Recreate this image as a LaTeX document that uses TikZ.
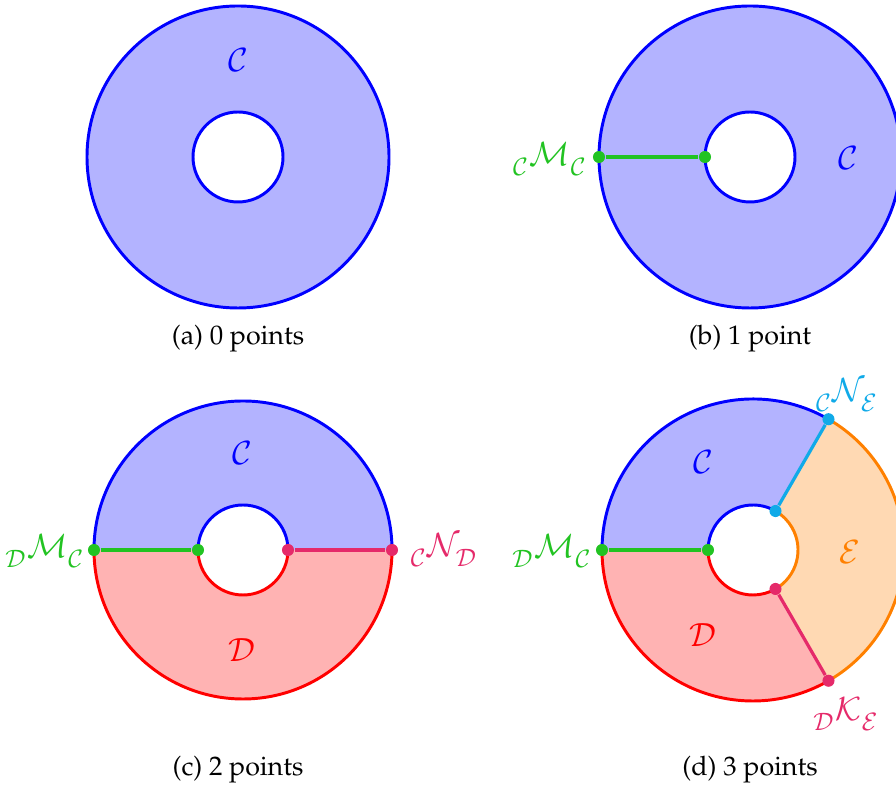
\documentclass[tikz,border=0pt]{standalone}
\usepackage[T1]{fontenc}
\usepackage{mathpazo}
\usetikzlibrary{calc}
\definecolor{mgreen}{HTML}{22C322}
\definecolor{mcyan}{HTML}{10AAE8}
\definecolor{mpink}{HTML}{E52A6A}
\definecolor{morange}{HTML}{FF8000}
\definecolor{fblue}{HTML}{B3B3FF}
\definecolor{fred}{HTML}{FFB3B3}
\definecolor{forange}{HTML}{FFD9B3}
\newcommand{\lsb}[1]{\lower2.2pt\hbox{$\scriptstyle\mathcal{#1}$}}
\newcommand{\lbl}[3]{${}_{\lsb{#1}}\mathcal{#2}_{\lsb{#3}}$}
\begin{document}
\begin{tikzpicture}[x=0.373pt,y=0.373pt,
  edge/.style={line width=1.1pt},
  seg/.style={line width=1.2pt},
  dot/.style={circle,inner sep=0pt,minimum size=4.5pt},
  lab/.style={inner sep=0pt,font=\large},
  captxt/.style={inner sep=0pt,font=\normalsize}]
\useasboundingbox (0,0) rectangle (896,791);
% ---------- (a)
\coordinate (ca) at (238,634);
\fill[fblue,even odd rule] (ca) circle[radius=151] (ca) circle[radius=45];
\draw[edge,blue] (ca) circle[radius=151];
\draw[edge,blue] (ca) circle[radius=45];
\node[lab,blue] (la) at (238,731) {$\mathcal{C}$};
\node[captxt] (capa) at (238,452) {(a) 0 points};
% ---------- (b)
\coordinate (cb) at (750,634);
\fill[fblue,even odd rule] (cb) circle[radius=151] (cb) circle[radius=45];
\draw[edge,blue] (cb) circle[radius=151];
\draw[edge,blue] (cb) circle[radius=45];
\node[dot,fill=mgreen] (b1) at ($(cb)+(180:151)$) {};
\node[dot,fill=mgreen] (b2) at ($(cb)+(180:45)$) {};
\draw[seg,mgreen] (b1) -- (b2);
\node[lab,blue] (lb) at (848,633) {$\mathcal{C}$};
\node[lab,mgreen] (lbm) at (550,632) {\lbl{C}{M}{C}};
\node[captxt] (capb) at (750,452) {(b) 1 point};
% ---------- (c)
\coordinate (cc) at (243,241);
\fill[fblue] ($(cc)+(0:149)$) arc[start angle=0,end angle=180,radius=149] -- ($(cc)+(180:45)$) arc[start angle=180,end angle=0,radius=45] -- cycle;
\fill[fred] ($(cc)+(180:149)$) arc[start angle=180,end angle=360,radius=149] -- ($(cc)+(0:45)$) arc[start angle=360,end angle=180,radius=45] -- cycle;
\draw[edge,blue] ($(cc)+(0:149)$) arc[start angle=0,end angle=180,radius=149];
\draw[edge,blue] ($(cc)+(0:45)$) arc[start angle=0,end angle=180,radius=45];
\draw[edge,red] ($(cc)+(180:149)$) arc[start angle=180,end angle=360,radius=149];
\draw[edge,red] ($(cc)+(180:45)$) arc[start angle=180,end angle=360,radius=45];
\node[dot,fill=mgreen] (c1) at ($(cc)+(180:149)$) {};
\node[dot,fill=mgreen] (c2) at ($(cc)+(180:45)$) {};
\node[dot,fill=mpink] (c3) at ($(cc)+(0:149)$) {};
\node[dot,fill=mpink] (c4) at ($(cc)+(0:45)$) {};
\draw[seg,mgreen] (c1) -- (c2);
\draw[seg,mpink] (c3) -- (c4);
\node[lab,blue] (lcc) at (242,338) {$\mathcal{C}$};
\node[lab,red] (lcd) at (242,141) {$\mathcal{D}$};
\node[lab,mgreen] (lcm) at (45,240) {\lbl{D}{M}{C}};
\node[lab,mpink] (lcn) at (444,241) {\lbl{C}{N}{D}};
\node[captxt] (capc) at (238,21) {(c) 2 points};
% ---------- (d)
\coordinate (cd) at (753,241);
\fill[fblue] ($(cd)+(60:151)$) arc[start angle=60,end angle=180,radius=151] -- ($(cd)+(180:45)$) arc[start angle=180,end angle=60,radius=45] -- cycle;
\fill[fred] ($(cd)+(180:151)$) arc[start angle=180,end angle=300,radius=151] -- ($(cd)+(300:45)$) arc[start angle=300,end angle=180,radius=45] -- cycle;
\fill[forange] ($(cd)+(-60:151)$) arc[start angle=-60,end angle=60,radius=151] -- ($(cd)+(60:45)$) arc[start angle=60,end angle=-60,radius=45] -- cycle;
\draw[edge,blue] ($(cd)+(60:151)$) arc[start angle=60,end angle=180,radius=151];
\draw[edge,blue] ($(cd)+(60:45)$) arc[start angle=60,end angle=180,radius=45];
\draw[edge,red] ($(cd)+(180:151)$) arc[start angle=180,end angle=300,radius=151];
\draw[edge,red] ($(cd)+(180:45)$) arc[start angle=180,end angle=300,radius=45];
\draw[edge,morange] ($(cd)+(-60:151)$) arc[start angle=-60,end angle=60,radius=151];
\draw[edge,morange] ($(cd)+(-60:45)$) arc[start angle=-60,end angle=60,radius=45];
\node[dot,fill=mgreen] (d1) at ($(cd)+(180:151)$) {};
\node[dot,fill=mgreen] (d2) at ($(cd)+(180:45)$) {};
\node[dot,fill=mcyan] (d3) at ($(cd)+(60:151)$) {};
\node[dot,fill=mcyan] (d4) at ($(cd)+(60:45)$) {};
\node[dot,fill=mpink] (d5) at ($(cd)+(-60:151)$) {};
\node[dot,fill=mpink] (d6) at ($(cd)+(-60:45)$) {};
\draw[seg,mgreen] (d1) -- (d2);
\draw[seg,mcyan] (d3) -- (d4);
\draw[seg,mpink] (d5) -- (d6);
\node[lab,blue] (ldc) at (703,329) {$\mathcal{C}$};
\node[lab,red] (ldd) at (703,156) {$\mathcal{D}$};
\node[lab,morange] (lde) at (850,239) {$\mathcal{E}$};
\node[lab,mgreen] (ldm) at (552,240) {\lbl{D}{M}{C}};
\node[lab,mcyan] (ldn) at (847,396) {\lbl{C}{N}{E}};
\node[lab,mpink] (ldk) at (846,77) {\lbl{D}{K}{E}};
\node[captxt] (capd) at (750,21) {(d) 3 points};
\end{tikzpicture}
\end{document}
